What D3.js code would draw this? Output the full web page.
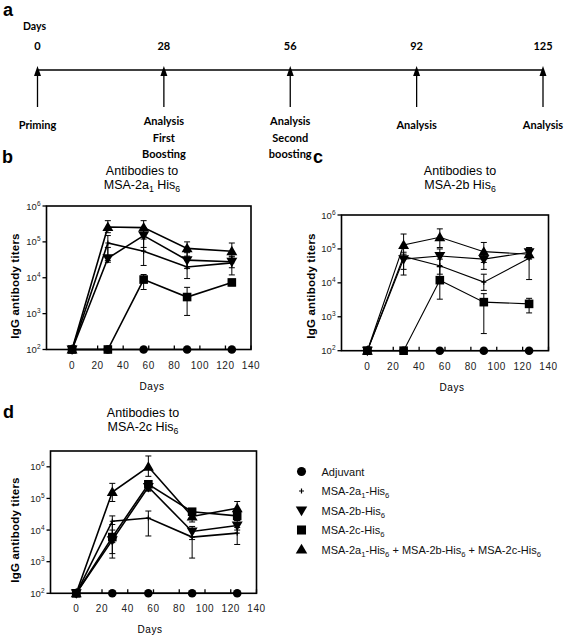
<!DOCTYPE html>
<html><head><meta charset="utf-8">
<script src="https://cdn.jsdelivr.net/npm/d3@7"></script>
<style>body{margin:0;background:#fff} svg{display:block}</style>
</head><body>
<svg id="chart" width="567" height="637"></svg>
<script>
// ---------- DATA ----------
const timelineDays = ["0", "28", "56", "92", "125"];
const timelineEvents = [["Priming"], ["Analysis", "First", "Boosting"], ["Analysis", "Second", "boosting"], ["Analysis"], ["Analysis"]];
const days = [0, 28, 56, 90, 125];
const xTicks = [0, 20, 40, 60, 80, 100, 120, 140];
const yTickExps = [2, 3, 4, 5, 6];

// panel b : antibodies to MSA-2a1 His6
const b_adj = [100, 100, 100, 100, 100];
const b_a1 = [100, 93000, 55000, 20000, 26000];
const b_a1_hi = [null, 150000, 120000, 30000, 40000];
const b_a1_lo = [null, 30000, 22000, 9500, 12000];
const b_2b = [100, 35000, 150000, 31000, 28000];
const b_2b_hi = [null, 70000, 250000, 50000, 38000];
const b_2b_lo = [null, 27000, 70000, 18000, 19000];
const b_2c = [100, 100, 8900, 2900, 7400];
const b_2c_hi = [null, null, 12300, 5400, 9000];
const b_2c_lo = [null, null, 4700, 890, 6000];
const b_mix = [100, 260000, 250000, 66000, 55000];
const b_mix_hi = [null, 390000, 390000, 100000, 93000];
const b_mix_lo = [null, 180000, 160000, 40000, 30000];

// panel c : antibodies to MSA-2b His6
const c_adj = [100, 100, 100, 100, 100];
const c_a1 = [100, 60000, 32000, 10500, 53000];
const c_a1_hi = [null, 80000, 50000, 18000, 100000];
const c_a1_lo = [null, 17000, 18000, 6000, 12500];
const c_2b = [100, 50000, 62000, 50000, 80000];
const c_2b_hi = [null, 70000, 100000, 80000, 100000];
const c_2b_lo = [null, 25000, 30000, 25000, 60000];
const c_2c = [100, 100, 12000, 2700, 2400];
const c_2c_hi = [null, null, 30000, 4800, 3500];
const c_2c_lo = [null, null, 3300, 320, 1300];
const c_mix = [100, 130000, 220000, 83000, 70000];
const c_mix_hi = [null, 275000, 390000, 155000, 110000];
const c_mix_lo = [null, 60000, 110000, 40000, 50000];

// panel d : antibodies to MSA-2c His6
const d_adj = [100, 100, 100, 100, 100];
const d_a1 = [100, 19000, 24000, 6000, 8000];
const d_a1_hi = [null, 28000, 40000, 11000, 12000];
const d_a1_lo = [null, 4000, 6500, 1300, 3500];
const d_2b = [100, 4800, 230000, 9000, 14000];
const d_2b_hi = [null, 10000, 300000, 13000, 20000];
const d_2b_lo = [null, 1300, 170000, 5000, 10000];
const d_2c = [100, 6000, 280000, 38000, 28000];
const d_2c_hi = [null, 15000, 330000, 45000, 35000];
const d_2c_lo = [null, 1800, 180000, 25000, 20000];
const d_mix = [100, 160000, 1000000, 27000, 49000];
const d_mix_hi = [null, 300000, 2200000, 40000, 80000];
const d_mix_lo = [null, 80000, 500000, 18000, 30000];

// legend
const legendLabels = [
  [{t: "Adjuvant"}],
  [{t: "MSA-2a"}, {t: "1", sub: true}, {t: "-His"}, {t: "6", sub: true}],
  [{t: "MSA-2b-His"}, {t: "6", sub: true}],
  [{t: "MSA-2c-His"}, {t: "6", sub: true}],
  [{t: "MSA-2a"}, {t: "1", sub: true}, {t: "-His"}, {t: "6", sub: true}, {t: " + MSA-2b-His"}, {t: "6", sub: true}, {t: " + MSA-2c-His"}, {t: "6", sub: true}]
];
const seriesSymbols = ["circle", "plus", "down", "square", "up"];

// ---------- DRAWING ----------
const svg = d3.select("#chart");
const ARIAL = "'Liberation Sans', Arial, sans-serif";
const CALIBRI = "Lato, 'Open Sans', sans-serif";

function rich(textSel, parts, size) {
  let shifted = false;
  parts.forEach(p => {
    const ts = textSel.append("tspan").text(p.t);
    if (p.sub && !shifted) { ts.attr("dy", 3).attr("font-size", size * 0.7); shifted = true; }
    else if (!p.sub && shifted) { ts.attr("dy", -3); shifted = false; }
    else if (p.sub) ts.attr("font-size", size * 0.7);
  });
}

function drawSymbol(g, type, x, y, s) {
  s = s || 1;
  if (type === "circle") g.append("circle").attr("cx", x).attr("cy", y).attr("r", 4.3 * s).attr("fill", "#000");
  else if (type === "square") g.append("rect").attr("x", x - 4.3 * s).attr("y", y - 4.3 * s).attr("width", 8.6 * s).attr("height", 8.6 * s).attr("fill", "#000");
  else if (type === "up") g.append("path").attr("d", d3.symbol(d3.symbolTriangle, 52 * s * s)()).attr("transform", `translate(${x},${y + 0.8})`).attr("fill", "#000");
  else if (type === "down") g.append("path").attr("d", d3.symbol(d3.symbolTriangle, 52 * s * s)()).attr("transform", `translate(${x},${y - 0.8}) rotate(180)`).attr("fill", "#000");
  else if (type === "plus") g.append("path").attr("d", `M${x - 2.5},${y}H${x + 2.5}M${x},${y - 2.5}V${y + 2.5}`).attr("stroke", "#000").attr("stroke-width", 1.2);
}

// ---- panel a : timeline ----
svg.append("text").attr("x", 3).attr("y", 16).attr("font-family", ARIAL).attr("font-weight", "bold").attr("font-size", 18).text("a");
svg.append("text").attr("x", 23).attr("y", 30).attr("font-family", CALIBRI).attr("font-weight", "bold").attr("font-size", 10.5).text("Days");
const tx = d3.scalePoint().domain(timelineDays).range([37.5, 543]);
svg.append("line").attr("x1", tx("0")).attr("x2", tx("125")).attr("y1", 70).attr("y2", 70).attr("stroke", "#000").attr("stroke-width", 1.3);
timelineDays.forEach((d, i) => {
  const x = tx(d);
  svg.append("line").attr("x1", x).attr("x2", x).attr("y1", 72).attr("y2", 107).attr("stroke", "#000").attr("stroke-width", 1.3);
  svg.append("path").attr("d", `M${x},66L${x - 3.5},76L${x + 3.5},76Z`).attr("fill", "#000");
  svg.append("text").attr("x", x).attr("y", 50).attr("text-anchor", "middle").attr("font-family", CALIBRI).attr("font-weight", "bold").attr("font-size", 11).text(d);
  const lines = timelineEvents[i];
  const y0 = lines.length === 1 ? 129 : 125;
  lines.forEach((l, j) => {
    svg.append("text").attr("x", x).attr("y", y0 + j * 16.5).attr("text-anchor", "middle")
      .attr("font-family", CALIBRI).attr("font-weight", "bold").attr("font-size", 11).text(l);
  });
});

// ---- chart panels ----
function panel(cfg) {
  const x = d3.scaleLinear().domain([-20, 140]).range(cfg.xr);
  const y = d3.scaleLog().domain([100, cfg.ymax]).range(cfg.yr);
  const g = svg.append("g");
  svg.append("text").attr("x", cfg.letter[0]).attr("y", cfg.letter[1]).attr("font-family", ARIAL).attr("font-weight", "bold").attr("font-size", 18).text(cfg.letterText);
  const tcx = cfg.titleX;
  svg.append("text").attr("x", tcx).attr("y", cfg.titleY).attr("text-anchor", "middle").attr("font-family", ARIAL).attr("font-size", 12.5).text("Antibodies to");
  const t2 = svg.append("text").attr("x", tcx).attr("y", cfg.titleY + 14).attr("text-anchor", "middle").attr("font-family", ARIAL).attr("font-size", 12.5);
  rich(t2, cfg.titleParts, 12.5);
  g.append("rect").attr("x", cfg.xr[0]).attr("y", cfg.yr[1]).attr("width", cfg.xr[1] - cfg.xr[0]).attr("height", cfg.yr[0] - cfg.yr[1])
    .attr("fill", "none").attr("stroke", "#000").attr("stroke-width", 1.6);
  yTickExps.forEach(e => {
    const yy = y(Math.pow(10, e));
    g.append("line").attr("x1", cfg.xr[0] - 4).attr("x2", cfg.xr[0]).attr("y1", yy).attr("y2", yy).attr("stroke", "#000").attr("stroke-width", 1.3);
    const t = g.append("text").attr("x", cfg.xr[0] - 6).attr("y", yy + 3.5).attr("text-anchor", "end").attr("font-family", ARIAL).attr("font-size", 9.5).attr("fill", "#222");
    t.append("tspan").text("10");
    t.append("tspan").text(e).attr("font-size", 6.5).attr("dy", -4);
  });
  xTicks.forEach(v => {
    const xx = x(v);
    g.append("line").attr("x1", xx).attr("x2", xx).attr("y1", cfg.yr[0]).attr("y2", cfg.yr[0] - 4).attr("stroke", "#000").attr("stroke-width", 1.3);
    g.append("text").attr("x", xx).attr("y", cfg.yr[0] + 19).attr("text-anchor", "middle").attr("font-family", ARIAL).attr("font-size", 10).attr("letter-spacing", 0.6).attr("fill", "#222").text(v);
  });
  svg.append("text").attr("x", cfg.daysX).attr("y", cfg.yr[0] + 40).attr("text-anchor", "middle").attr("font-family", ARIAL).attr("font-size", 10).attr("letter-spacing", 0.6).text("Days");
  svg.append("text").attr("transform", `translate(${cfg.ylabX},${cfg.ylabY}) rotate(-90)`).attr("text-anchor", "middle")
    .attr("font-family", ARIAL).attr("font-weight", "bold").attr("font-size", 11.5).attr("letter-spacing", 0.2).text("IgG antibody  titers");
  const line = d3.line().x((d, i) => x(days[i])).y(d => y(d));
  cfg.series.forEach(s => {
    g.append("path").attr("d", line(s.v)).attr("fill", "none").attr("stroke", "#000").attr("stroke-width", cfg.lw);
  });
  cfg.series.forEach(s => {
    if (!s.hi) return;
    s.v.forEach((v, i) => {
      if (s.hi[i] == null) return;
      const xx = x(days[i]);
      const y1 = y(s.hi[i]), y2 = y(s.lo[i]);
      g.append("path").attr("d", `M${xx},${y1}V${y2}M${xx - 3},${y1}H${xx + 3}M${xx - 3},${y2}H${xx + 3}`).attr("stroke", "#000").attr("stroke-width", 1).attr("fill", "none");
    });
  });
  cfg.series.forEach(s => {
    s.v.forEach((v, i) => drawSymbol(g, s.sym, x(days[i]), y(v)));
  });
}

function mk(adj, a1, a1h, a1l, b2, b2h, b2l, c2, c2h, c2l, mx, mxh, mxl) {
  return [
    {sym: "circle", v: adj},
    {sym: "plus", v: a1, hi: a1h, lo: a1l},
    {sym: "down", v: b2, hi: b2h, lo: b2l},
    {sym: "square", v: c2, hi: c2h, lo: c2l},
    {sym: "up", v: mx, hi: mxh, lo: mxl}
  ];
}

panel({
  xr: [46.5, 251], yr: [349.5, 206], ymax: 1e6, lw: 1.6,
  letter: [2, 163], letterText: "b",
  titleX: 142, titleY: 175,
  titleParts: [{t: "MSA-2a"}, {t: "1", sub: true}, {t: " His"}, {t: "6", sub: true}],
  daysX: 152, ylabX: 19, ylabY: 286,
  series: mk(b_adj, b_a1, b_a1_hi, b_a1_lo, b_2b, b_2b_hi, b_2b_lo, b_2c, b_2c_hi, b_2c_lo, b_mix, b_mix_hi, b_mix_lo)
});
panel({
  xr: [341.5, 548.5], yr: [350.7, 215], ymax: 1e6, lw: 1.1,
  letter: [313, 163], letterText: "c",
  titleX: 460, titleY: 175,
  titleParts: [{t: "MSA-2b His"}, {t: "6", sub: true}],
  daysX: 452, ylabX: 315, ylabY: 286,
  series: mk(c_adj, c_a1, c_a1_hi, c_a1_lo, c_2b, c_2b_hi, c_2b_lo, c_2c, c_2c_hi, c_2c_lo, c_mix, c_mix_hi, c_mix_lo)
});
panel({
  xr: [50.5, 256.5], yr: [593.3, 451], ymax: Math.pow(10, 6.5), lw: 1.6,
  letter: [3, 418], letterText: "d",
  titleX: 143, titleY: 417,
  titleParts: [{t: "MSA-2c His"}, {t: "6", sub: true}],
  daysX: 150, ylabX: 19, ylabY: 530,
  series: mk(d_adj, d_a1, d_a1_hi, d_a1_lo, d_2b, d_2b_hi, d_2b_lo, d_2c, d_2c_hi, d_2c_lo, d_mix, d_mix_hi, d_mix_lo)
});

// legend
const legendY = d3.scalePoint().domain(d3.range(legendLabels.length)).range([471.5, 549.5]);
legendLabels.forEach((parts, i) => {
  const yy = legendY(i);
  drawSymbol(svg, seriesSymbols[i], 301.5, yy, 1.05);
  const t = svg.append("text").attr("x", 321.5).attr("y", yy + 4).attr("font-family", ARIAL).attr("font-size", 11).attr("fill", "#111");
  rich(t, parts, 11);
});
</script>
</body></html>
